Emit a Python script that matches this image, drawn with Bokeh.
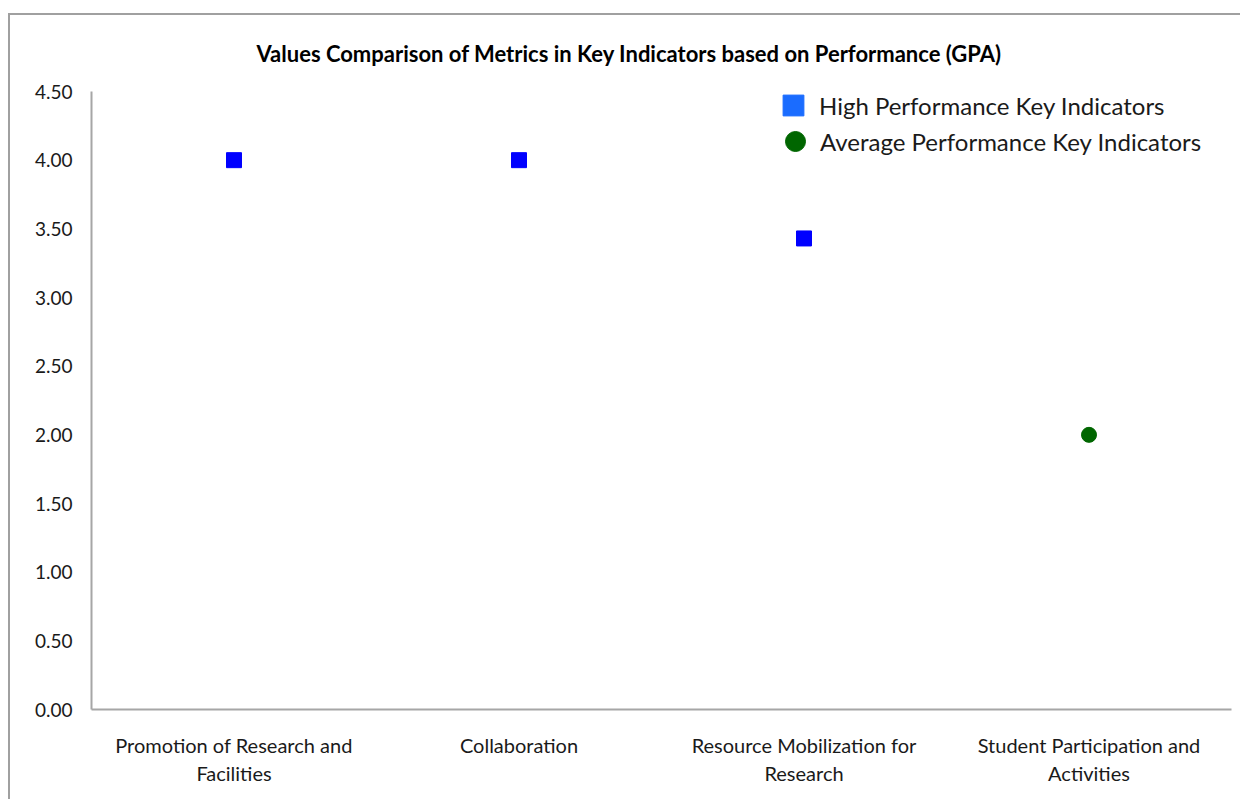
from bokeh.plotting import figure
from bokeh.models import (FactorRange, Range1d, ColumnDataSource, Legend, LegendItem,
                          NumeralTickFormatter, SingleIntervalTicker, Title)
from bokeh.embed import file_html
from bokeh.resources import INLINE

# ---- data ----
categories = [
    "Promotion of Research and\nFacilities",
    "Collaboration",
    "Resource Mobilization for\nResearch",
    "Student Participation and\nActivities",
]
high_categories = categories[:3]
high_values = [4.00, 4.00, 3.43]
avg_categories = categories[3:]
avg_values = [2.00]
title_text = "Values Comparison of Metrics in Key Indicators based on Performance (GPA)"
high_label = "High Performance Key Indicators"
avg_label = "Average Performance Key Indicators"

FONT = "Lato"

p = figure(
    width=1232, height=786,
    x_range=FactorRange(*categories, range_padding=0),
    y_range=Range1d(0, 4.5),
    output_backend="svg", toolbar_location=None,
    min_border_left=81, min_border_right=11, min_border_top=76, min_border_bottom=92,
)
# outer chart frame: only its left and top edges are visible in the reference
p.styles = {"border-left": "2px solid #a0a0a0", "border-top": "2px solid #a0a0a0",
            "margin-left": "8px", "margin-top": "13px"}
p.outline_line_color = None
p.xgrid.grid_line_color = None
p.ygrid.grid_line_color = None
p.background_fill_color = "white"
p.border_fill_color = "white"

t = Title(text=title_text, align="left", vertical_align="top", text_font=FONT,
          text_font_size="22px", text_font_style="bold", text_color="#000000",
          standoff=46, offset=165)
p.add_layout(t, "above")

# axes
for ax in (p.xaxis[0], p.yaxis[0]):
    ax.axis_line_color = "#a6a6a6"
    ax.axis_line_width = 2
    ax.major_tick_line_color = None
    ax.minor_tick_line_color = None
    ax.major_label_text_font = FONT
    ax.major_label_text_color = "#1a1a1a"
p.yaxis[0].major_label_text_font_size = "19px"
p.xaxis[0].major_label_text_font_size = "20px"
p.yaxis[0].ticker = SingleIntervalTicker(interval=0.5)
p.yaxis[0].formatter = NumeralTickFormatter(format="0.00")
p.yaxis[0].major_label_standoff = 13
p.xaxis[0].major_label_standoff = 17

# data marks
src_high = ColumnDataSource(dict(x=high_categories, y=high_values))
src_avg = ColumnDataSource(dict(x=avg_categories, y=avg_values))
p.scatter("x", "y", source=src_high, marker="square", size=15,
          fill_color="#0000ff", line_color="#0000ff")
p.scatter("x", "y", source=src_avg, marker="circle", size=15,
          fill_color="#006600", line_color="#006600")

# legend-only renderers (lighter swatch colour like the reference legend); no visible point
nan = float("nan")
leg_high = p.scatter(x=[categories[0]], y=[nan], marker="square",
                     fill_color="#1a6cff", line_color="#1a6cff")
leg_avg = p.scatter(x=[categories[0]], y=[nan], marker="circle",
                    fill_color="#006600", line_color="#006600")

common = dict(padding=0, margin=0, label_text_font=FONT, label_text_font_size="24px",
              label_text_color="#1a1a1a", border_line_color=None,
              background_fill_alpha=0, label_standoff=0)
legend1 = Legend(items=[LegendItem(label=high_label, renderers=[leg_high])],
                 location=(676, 578), glyph_width=52, glyph_height=52, **common)
legend2 = Legend(items=[LegendItem(label=avg_label, renderers=[leg_avg])],
                 location=(679, 543), glyph_width=50, glyph_height=50, **common)
p.add_layout(legend1)
p.add_layout(legend2)

open("out.html", "w").write(file_html(p, INLINE))
